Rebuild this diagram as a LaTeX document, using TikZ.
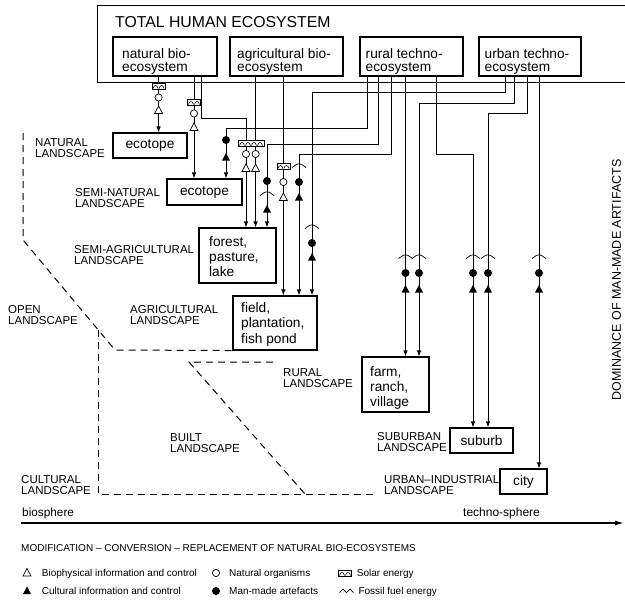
\documentclass[tikz,border=0pt]{standalone}
\usepackage{fontspec}
\setmainfont{Liberation Sans}
\usetikzlibrary{arrows.meta}

% font size / leading shorthand
\newcommand{\fsz}[2]{\fontsize{#1}{#2}\selectfont}
% left-aligned block of lines whose baseline is that of its first line
\newcommand{\linesof}[1]{\vtop{\let\\\cr\halign{##\hfil\cr#1\crcr}}}

\tikzset{
  solar/.pic={
    \draw[line width=0.7pt,fill=white] (-6.5,-3) rectangle (6.5,3);
    \draw[line width=0.6pt] (-5.5,2.5) .. controls (-4.5,-1.5) and (-1.5,-1.5) .. (-0.5,2.5)
                            (0.5,2.5) .. controls (1.5,-1.5) and (4.5,-1.5) .. (5.5,2.5);
  },
  solartwo/.pic={
    \draw[line width=0.7pt,fill=white] (-13,-3) rectangle (13,3);
    \foreach \h in {-12,-6,0,6}{
      \draw[line width=0.6pt] (\h+0.5,2.5) .. controls (\h+1.5,-1.5) and (\h+4.5,-1.5) .. (\h+5.5,2.5);
    }
  },
  fossil/.pic={
    \draw[line width=0.7pt] (-7,1.5) .. controls (-5,1.5) and (-4,-2.2) .. (0,-2.2)
                            .. controls (4,-2.2) and (5,1.5) .. (7,1.5);
  },
  fossiltwo/.pic={
    \draw[line width=0.7pt] (-7,1.5) .. controls (-5.5,1.5) and (-5,-1.8) .. (-3.5,-1.8)
                            .. controls (-2,-1.8) and (-1.5,1.5) .. (0,1.5)
                            .. controls (1.5,1.5) and (2,-1.8) .. (3.5,-1.8)
                            .. controls (5,-1.8) and (5.5,1.5) .. (7,1.5);
  },
  otri/.pic={\draw[line width=0.7pt,fill=white] (-4,3.5) -- (0,-4) -- (4,3.5) -- cycle;},
  ftri/.pic={\fill (-4,3.5) -- (0,-4) -- (4,3.5) -- cycle;},
  ocirc/.pic={\draw[line width=0.7pt,fill=white] (0,0) circle (3.6);},
  fcirc/.pic={\fill (0,0) circle (4);},
}

\begin{document}
\begin{tikzpicture}[x=1pt,y=-1pt,
  frame/.style={draw,line width=1.4pt,inner sep=0pt},
  ecobox/.style={draw,line width=1.1pt,inner sep=0pt,font=\fsz{13.7}{15}},
  boxtext/.style={inner sep=0pt,anchor=base west,font=\fsz{13.7}{15}},
  toptext/.style={inner sep=0pt,anchor=base west,font=\fsz{13.7}{13.5}},
  scape/.style={inner sep=0pt,anchor=base west,font=\fsz{11.5}{11.5}},
  legtext/.style={inner sep=0pt,anchor=base west,font=\fsz{10}{12}},
  wire/.style={line width=0.9pt,-{Latex[length=6pt,width=4.5pt]}},
  zone/.style={line width=1pt,dash pattern=on 7pt off 5pt},
]
\useasboundingbox (0,0) rectangle (625,600);

% ---------- total human ecosystem ----------
\node[frame,anchor=north west,minimum width=540pt,minimum height=77pt] (total) at (97,4.5) {};
\node[inner sep=0pt,anchor=base west,font=\fsz{15.8}{16}] (title) at (115,27) {TOTAL HUMAN ECOSYSTEM};

\node[ecobox,minimum width=104pt,minimum height=39pt] (nat)  at (165,56.5) {};
\node[ecobox,minimum width=113pt,minimum height=39pt] (agri) at (286.5,56.5) {};
\node[ecobox,minimum width=103pt,minimum height=39pt] (rur)  at (411.5,56.5) {};
\node[ecobox,minimum width=102pt,minimum height=39pt] (urb)  at (530,56.5) {};
\node[toptext] (natT)  at (122,58)   {\linesof{natural bio-\\ecosystem}};
\node[toptext] (agriT) at (237,58)   {\linesof{agricultural bio-\\ecosystem}};
\node[toptext] (rurT)  at (365.5,58) {\linesof{rural techno-\\ecosystem}};
\node[toptext] (urbT)  at (484.5,58) {\linesof{urban techno-\\ecosystem}};

% ---------- landscape units ----------
\node[ecobox,minimum width=74pt,minimum height=25pt] (eco1) at (150,145.5) {ecotope};
\node[ecobox,minimum width=75pt,minimum height=26pt] (eco2) at (204.5,192) {ecotope};
\node[ecobox,minimum width=77pt,minimum height=55pt] (forest) at (237.5,255.5) {};
\node[boxtext] (forestT) at (209,246.5) {\linesof{forest,\\pasture,\\lake}};
\node[ecobox,minimum width=84pt,minimum height=54pt] (field) at (275,323) {};
\node[boxtext,font=\fsz{13.7}{15.5}] (fieldT) at (241,312) {\linesof{field,\\plantation,\\fish pond}};
\node[ecobox,minimum width=67pt,minimum height=55pt] (farm) at (395.5,384.5) {};
\node[boxtext] (farmT) at (370,376.5) {\linesof{farm,\\ranch,\\village}};
\node[ecobox,minimum width=63pt,minimum height=25pt] (suburb) at (481.5,440.5) {suburb};
\node[ecobox,minimum width=47pt,minimum height=25pt] (city) at (523.5,481.5) {city};

% ---------- landscape names ----------
\node[scape] (lNat)   at (35,146)  {\linesof{NATURAL\\LANDSCAPE}};
\node[scape] (lSemiN) at (75,196)  {\linesof{SEMI-NATURAL\\LANDSCAPE}};
\node[scape] (lSemiA) at (74,253)  {\linesof{SEMI-AGRICULTURAL\\LANDSCAPE}};
\node[scape] (lOpen)  at (8,313)   {\linesof{OPEN\\LANDSCAPE}};
\node[scape] (lAgri)  at (130,313) {\linesof{AGRICULTURAL\\LANDSCAPE}};
\node[scape] (lRur)   at (283,376) {\linesof{RURAL\\LANDSCAPE}};
\node[scape] (lBuilt) at (170,441) {\linesof{BUILT\\LANDSCAPE}};
\node[scape] (lCult)  at (21,483)  {\linesof{CULTURAL\\LANDSCAPE}};
\node[scape] (lSub)   at (377,440) {\linesof{SUBURBAN\\LANDSCAPE}};
\node[scape] (lUrb)   at (384,483) {\linesof{URBAN--INDUSTRIAL\\LANDSCAPE}};

% ---------- landscape boundaries ----------
\draw[zone] (23,133) -- (23,240) -- (115,350) -- (field.south west);
\draw[zone] (98,330) -- (98,494) -- (376,494);
\draw[zone] (273,362) -- (189,362) -- (305,494);

% ---------- connector columns ----------
\coordinate (k1)  at (158.6,0);
\coordinate (k2)  at (194,0);
\coordinate (s3)  at (201.6,0);  \coordinate (b3)  at (246,118);
\coordinate (k4)  at (255.6,0);
\coordinate (k5)  at (283.4,0);
\coordinate (s6)  at (367,0);    \coordinate (b6)  at (226,128);
\coordinate (s7)  at (378,0);    \coordinate (b7)  at (267,144);
\coordinate (s8)  at (391,0);    \coordinate (b8)  at (299,154);
\coordinate (k9)  at (405.5,0);
\coordinate (s10) at (436.5,0);  \coordinate (b10) at (473,154);
\coordinate (s11) at (505,0);    \coordinate (b11) at (312,92);
\coordinate (s12) at (514,0);    \coordinate (b12) at (419,103);
\coordinate (s13) at (527,0);    \coordinate (b13) at (488,113);
\coordinate (k14) at (539,0);

\draw[wire] (nat.south -| k1) -- (eco1.north -| k1);
\draw[wire] (nat.south -| k2) -- (eco2.north -| k2);
\draw[wire] (nat.south -| s3) |- (b3) -- (forest.north -| b3);
\draw[wire] (agri.south -| k4) -- (forest.north -| k4);
\draw[wire] (agri.south -| k5) -- (field.north -| k5);
\draw[wire] (rur.south -| s6) |- (b6) -- (eco2.north -| b6);
\draw[wire] (rur.south -| s7) |- (b7) -- (forest.north -| b7);
\draw[wire] (rur.south -| s8) |- (b8) -- (field.north -| b8);
\draw[wire] (rur.south -| k9) -- (farm.north -| k9);
\draw[wire] (rur.south -| s10) |- (b10) -- (suburb.north -| b10);
\draw[wire] (urb.south -| s11) |- (b11) -- (field.north -| b11);
\draw[wire] (urb.south -| s12) |- (b12) -- (farm.north -| b12);
\draw[wire] (urb.south -| s13) |- (b13) -- (suburb.north -| b13);
\draw[wire] (urb.south -| k14) -- (city.north -| k14);

% ---------- energy, organism and control symbols ----------
\pic at (158.6,86) {solar};  \pic at (158.6,97.5) {ocirc}; \pic at (158.6,110) {otri};
\pic at (194,102) {solar};   \pic at (194,113.5) {ocirc};  \pic at (194,127) {otri};
\pic at (251,143) {solartwo};
\pic at (246,154) {ocirc};   \pic at (246,168) {otri};
\pic at (255.6,154) {ocirc}; \pic at (255.6,168) {otri};
\pic at (283.4,166) {solar}; \pic at (283.4,182) {ocirc};  \pic at (283.4,197) {otri};
\pic at (226,140) {fcirc};   \pic at (226,157) {ftri};
\pic at (267,181) {fcirc};   \pic at (267,194) {fossil};   \pic at (267,209) {ftri};
\pic at (299,166) {fossil};  \pic at (299,182) {fcirc};    \pic at (299,197) {ftri};
\pic at (312,227) {fossil};  \pic at (312,243) {fcirc};    \pic at (312,257) {ftri};
\foreach \cx in {405.5,419,473,488,539}{
  \pic at (\cx,257) {fossil}; \pic at (\cx,273) {fcirc}; \pic at (\cx,289) {ftri};
}

% ---------- axes ----------
\node[inner sep=0pt,rotate=90,font=\fsz{12.5}{13}] (dominance) at (616.5,280) {DOMINANCE OF MAN-MADE ARTIFACTS};
\coordinate (bio) at (21,523);
\coordinate (techno) at (624,523);
\draw[line width=1.2pt,-{Latex[length=9pt,width=5pt]}] (bio) -- (techno);
\node[inner sep=0pt,anchor=base west,font=\fsz{11.8}{12}] (bioT) at (22,516.5) {biosphere};
\node[inner sep=0pt,anchor=base west,font=\fsz{12}{12}] (technoT) at (463,516.5) {techno-sphere};
\node[legtext] (modif) at (21,551) {MODIFICATION -- CONVERSION -- REPLACEMENT OF NATURAL BIO-ECOSYSTEMS};

% ---------- legend ----------
\pic at (27,572.5) {otri};     \node[legtext] (legA) at (41.7,576.5) {Biophysical information and control};
\pic at (27,590.5) {ftri};     \node[legtext] (legB) at (41.7,594.5) {Cultural information and control};
\pic at (216,573) {ocirc};     \node[legtext] (legC) at (229,576.5) {Natural organisms};
\pic at (216,591) {fcirc};     \node[legtext] (legD) at (229,594.5) {Man-made artefacts};
\pic at (345,573) {solar};     \node[legtext] (legE) at (356.7,576.5) {Solar energy};
\pic at (346.5,591) {fossiltwo}; \node[legtext] (legF) at (358.3,594.5) {Fossil fuel energy};
\end{tikzpicture}
\end{document}
